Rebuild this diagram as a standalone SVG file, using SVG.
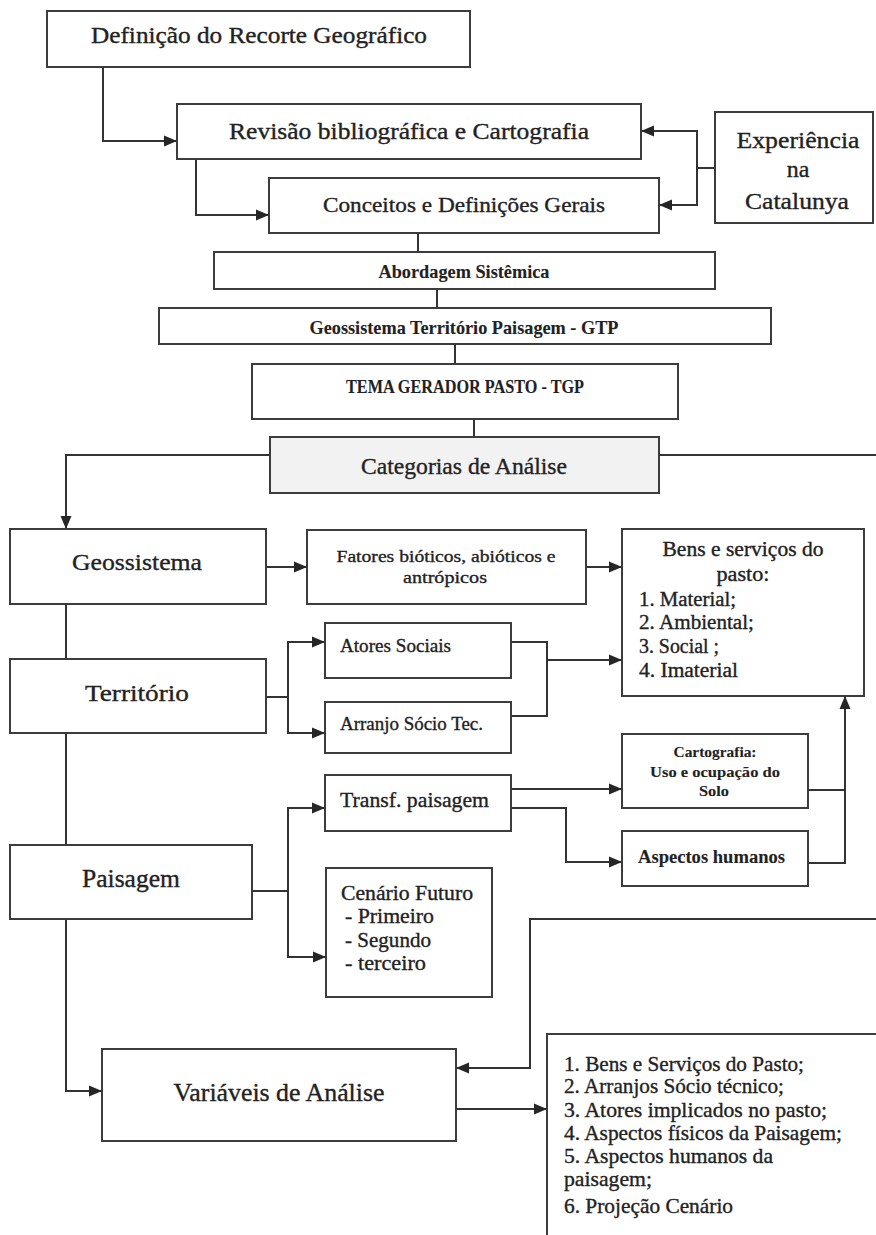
<svg xmlns="http://www.w3.org/2000/svg" width="876" height="1235" viewBox="0 0 876 1235">
  <defs>
    <marker id="arrow" markerUnits="userSpaceOnUse" markerWidth="14" markerHeight="12" refX="13" refY="6" orient="auto">
      <path d="M0,0.5 L13,6 L0,11.5 Z" fill="#262626"/>
    </marker>
    <style>
      .box { fill: #ffffff; stroke: #3c3c3c; stroke-width: 2; }
      .grey { fill: #f2f2f2; }
      .edge { fill: none; stroke: #333333; stroke-width: 2; }
      .arr { marker-end: url(#arrow); }
      text { font-family: "Liberation Serif", "DejaVu Serif", serif; fill: #222222; stroke: #222222; stroke-width: 0.35; }
      .c { text-anchor: middle; }
      .b { font-weight: bold; stroke-width: 0.1; }
    </style>
  </defs>
  <rect width="876" height="1235" fill="#ffffff"/>

  <!-- connectors -->
  <g id="connectors">
    <path class="edge arr" d="M103,67 V141 H177"/>
    <path class="edge arr" d="M196,159 V215 H269"/>
    <path class="edge arr" d="M715,168 H697 V131 H641"/>
    <path class="edge arr" d="M697,168 V205 H659"/>
    <path class="edge" d="M418,233 V252"/>
    <path class="edge" d="M437,289 V308"/>
    <path class="edge" d="M455,344 V364"/>
    <path class="edge" d="M474,419 V437"/>
    <path class="edge arr" d="M270,455 H66 V529"/>
    <path class="edge" d="M659,455 H876"/>
    <path class="edge arr" d="M266,567 H307"/>
    <path class="edge arr" d="M586,567 H622"/>
    <path class="edge" d="M66,604 V659"/>
    <path class="edge" d="M266,697 H288"/>
    <path class="edge arr" d="M288,697 V642 H325"/>
    <path class="edge arr" d="M288,697 V733 H325"/>
    <path class="edge" d="M511,642 H547 V716 H511"/>
    <path class="edge arr" d="M547,660 H622"/>
    <path class="edge" d="M66,733 V845"/>
    <path class="edge" d="M252,891 H288"/>
    <path class="edge arr" d="M288,891 V808 H325"/>
    <path class="edge arr" d="M288,891 V957 H326"/>
    <path class="edge arr" d="M511,789 H622"/>
    <path class="edge arr" d="M511,808 H566 V862 H622"/>
    <path class="edge" d="M808,790 H845"/>
    <path class="edge arr" d="M808,863 H845 V696"/>
    <path class="edge arr" d="M66,919 V1091 H102"/>
    <path class="edge arr" d="M876,919 H530 V1068 H456"/>
    <path class="edge arr" d="M456,1109 H547"/>
  </g>

  <g id="recorte">
    <rect class="box" x="47" y="11" width="423" height="56"/>
    <text class="c" x="259" y="43" font-size="23" textLength="336" lengthAdjust="spacingAndGlyphs">Definição do Recorte Geográfico</text>
  </g>
  <g id="revisao">
    <rect class="box" x="177" y="104" width="464" height="55"/>
    <text class="c" x="409" y="139" font-size="23" textLength="360" lengthAdjust="spacingAndGlyphs">Revisão bibliográfica e Cartografia</text>
  </g>
  <g id="conceitos">
    <rect class="box" x="269" y="178" width="390" height="55"/>
    <text class="c" x="464" y="212" font-size="22" textLength="282" lengthAdjust="spacingAndGlyphs">Conceitos e Definições Gerais</text>
  </g>
  <g id="experiencia">
    <rect class="box" x="715" y="112" width="158" height="111"/>
    <text class="c" x="798" y="148" font-size="24" textLength="123" lengthAdjust="spacingAndGlyphs">Experiência</text>
    <text class="c" x="798" y="177" font-size="24">na</text>
    <text class="c" x="797" y="209" font-size="24" textLength="104" lengthAdjust="spacingAndGlyphs">Catalunya</text>
  </g>
  <g id="abordagem">
    <rect class="box" x="214" y="252" width="501" height="37"/>
    <text class="c b" x="464" y="278" font-size="18" textLength="171" lengthAdjust="spacingAndGlyphs">Abordagem Sistêmica</text>
  </g>
  <g id="gtp">
    <rect class="box" x="159" y="308" width="612" height="36"/>
    <text class="c b" x="464" y="334" font-size="19" textLength="309" lengthAdjust="spacingAndGlyphs">Geossistema Território Paisagem - GTP</text>
  </g>
  <g id="tgp">
    <rect class="box" x="252" y="364" width="426" height="55"/>
    <text class="c b" x="465" y="393" font-size="18.5" textLength="238" lengthAdjust="spacingAndGlyphs">TEMA GERADOR PASTO - TGP</text>
  </g>
  <g id="categorias">
    <rect class="box grey" x="270" y="437" width="389" height="56"/>
    <text class="c" x="464" y="474" font-size="23.5" textLength="206" lengthAdjust="spacingAndGlyphs">Categorias de Análise</text>
  </g>

  <g id="geossistema">
    <rect class="box" x="10" y="529" width="256" height="75"/>
    <text class="c" x="137" y="570" font-size="24" textLength="130" lengthAdjust="spacingAndGlyphs">Geossistema</text>
  </g>
  <g id="fatores">
    <rect class="box" x="307" y="530" width="279" height="74"/>
    <text class="c" x="446" y="562" font-size="17.5" textLength="219" lengthAdjust="spacingAndGlyphs">Fatores bióticos, abióticos e</text>
    <text class="c" x="445" y="583" font-size="17.5" textLength="84" lengthAdjust="spacingAndGlyphs">antrópicos</text>
  </g>
  <g id="bens">
    <rect class="box" x="622" y="529" width="242" height="167"/>
    <text class="c" x="743" y="556" font-size="20" textLength="161" lengthAdjust="spacingAndGlyphs">Bens e serviços do</text>
    <text class="c" x="743" y="581" font-size="20" textLength="53" lengthAdjust="spacingAndGlyphs">pasto:</text>
    <text x="639" y="606" font-size="20" textLength="97" lengthAdjust="spacingAndGlyphs">1. Material;</text>
    <text x="639" y="629" font-size="20" textLength="115" lengthAdjust="spacingAndGlyphs">2. Ambiental;</text>
    <text x="639" y="653" font-size="20" textLength="80" lengthAdjust="spacingAndGlyphs">3. Social ;</text>
    <text x="639" y="677" font-size="20" textLength="99" lengthAdjust="spacingAndGlyphs">4. Imaterial</text>
  </g>
  <g id="territorio">
    <rect class="box" x="10" y="659" width="256" height="74"/>
    <text class="c" x="137" y="701" font-size="24" textLength="104" lengthAdjust="spacingAndGlyphs">Território</text>
  </g>
  <g id="atores">
    <rect class="box" x="325" y="623" width="186" height="55"/>
    <text x="340" y="652" font-size="18.5" textLength="111" lengthAdjust="spacingAndGlyphs">Atores Sociais</text>
  </g>
  <g id="arranjo">
    <rect class="box" x="325" y="702" width="186" height="51"/>
    <text x="340" y="730" font-size="18.5" textLength="143" lengthAdjust="spacingAndGlyphs">Arranjo Sócio Tec.</text>
  </g>
  <g id="transf">
    <rect class="box" x="325" y="775" width="186" height="56"/>
    <text x="340" y="807" font-size="21" textLength="149" lengthAdjust="spacingAndGlyphs">Transf. paisagem</text>
  </g>
  <g id="cartografia">
    <rect class="box" x="622" y="734" width="186" height="74"/>
    <text class="c b" x="715" y="757" font-size="15.5" textLength="83" lengthAdjust="spacingAndGlyphs">Cartografia:</text>
    <text class="c b" x="715" y="777" font-size="15.5" textLength="130" lengthAdjust="spacingAndGlyphs">Uso e ocupação do</text>
    <text class="c b" x="714" y="796" font-size="15.5" textLength="30" lengthAdjust="spacingAndGlyphs">Solo</text>
  </g>
  <g id="aspectos">
    <rect class="box" x="622" y="831" width="186" height="55"/>
    <text class="b" x="638" y="863" font-size="18" textLength="147" lengthAdjust="spacingAndGlyphs">Aspectos humanos</text>
  </g>
  <g id="paisagem">
    <rect class="box" x="10" y="845" width="242" height="74"/>
    <text class="c" x="131" y="887" font-size="25" textLength="98" lengthAdjust="spacingAndGlyphs">Paisagem</text>
  </g>
  <g id="cenario">
    <rect class="box" x="326" y="868" width="166" height="129"/>
    <text x="341" y="900" font-size="20.5" textLength="132" lengthAdjust="spacingAndGlyphs">Cenário Futuro</text>
    <text x="345" y="923" font-size="20.5" textLength="89" lengthAdjust="spacingAndGlyphs">- Primeiro</text>
    <text x="345" y="947" font-size="20.5" textLength="86" lengthAdjust="spacingAndGlyphs">- Segundo</text>
    <text x="345" y="970" font-size="20.5" textLength="81" lengthAdjust="spacingAndGlyphs">- terceiro</text>
  </g>
  <g id="variaveis">
    <rect class="box" x="102" y="1049" width="354" height="92"/>
    <text class="c" x="279" y="1101" font-size="26" textLength="211" lengthAdjust="spacingAndGlyphs">Variáveis de Análise</text>
  </g>
  <g id="lista">
    <rect class="box" x="547" y="1034" width="340" height="210"/>
    <text x="564" y="1071" font-size="21" textLength="240" lengthAdjust="spacingAndGlyphs">1. Bens e Serviços do Pasto;</text>
    <text x="564" y="1093" font-size="21" textLength="220" lengthAdjust="spacingAndGlyphs">2. Arranjos Sócio técnico;</text>
    <text x="564" y="1117" font-size="21" textLength="263" lengthAdjust="spacingAndGlyphs">3. Atores implicados no pasto;</text>
    <text x="564" y="1140" font-size="21" textLength="278" lengthAdjust="spacingAndGlyphs">4. Aspectos físicos da Paisagem;</text>
    <text x="564" y="1163" font-size="21" textLength="209" lengthAdjust="spacingAndGlyphs">5. Aspectos humanos da</text>
    <text x="564" y="1186" font-size="21" textLength="88" lengthAdjust="spacingAndGlyphs">paisagem;</text>
    <text x="564" y="1213" font-size="21" textLength="169" lengthAdjust="spacingAndGlyphs">6. Projeção Cenário</text>
  </g>
</svg>
